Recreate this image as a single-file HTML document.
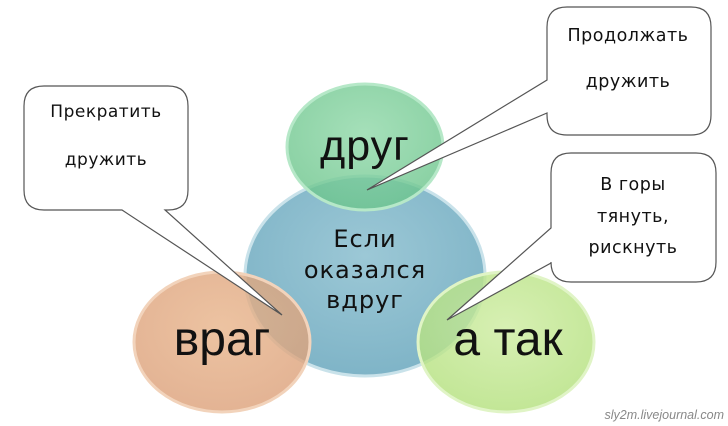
<!DOCTYPE html>
<html><head><meta charset="utf-8"><style>
html,body{margin:0;padding:0;background:#fff;}
svg{display:block;}
text{font-family:"Liberation Sans","DejaVu Sans",sans-serif;}
.c{font-family:"DejaVu Sans","Liberation Sans",sans-serif;}
</style></head><body>
<svg width="728" height="426" viewBox="0 0 728 426" xmlns="http://www.w3.org/2000/svg">
<defs>
<radialGradient id="gb" cx="50%" cy="40%" r="60%"><stop offset="0" stop-color="#9cc8d6"/><stop offset="1" stop-color="#7fb4c7"/></radialGradient>
<radialGradient id="gg" cx="50%" cy="40%" r="60%"><stop offset="0" stop-color="#8fd8a8"/><stop offset="1" stop-color="#6cc58c"/></radialGradient>
<radialGradient id="go" cx="50%" cy="40%" r="60%"><stop offset="0" stop-color="#e8b48a"/><stop offset="1" stop-color="#dca079"/></radialGradient>
<radialGradient id="gl" cx="50%" cy="40%" r="60%"><stop offset="0" stop-color="#cdeca0"/><stop offset="1" stop-color="#b3e07c"/></radialGradient>
</defs>
<ellipse cx="365" cy="276" rx="120" ry="100" fill="url(#gb)" stroke="#c9e2ea" stroke-width="3"/>
<ellipse cx="365" cy="147" rx="78" ry="63" fill="url(#gg)" fill-opacity="0.8" stroke="#b6e8c8" stroke-width="3"/>
<ellipse cx="222" cy="342" rx="88" ry="70" fill="url(#go)" fill-opacity="0.8" stroke="#f2d3bb" stroke-width="3"/>
<ellipse cx="506" cy="342" rx="88" ry="70" fill="url(#gl)" fill-opacity="0.8" stroke="#e0f4c6" stroke-width="3"/>
<text x="365" y="160" font-size="43" text-anchor="middle" fill="#111" letter-spacing="1">друг</text>
<text class="c" x="365" y="247" font-size="24" text-anchor="middle" fill="#111" letter-spacing="1">Если</text>
<text class="c" x="365" y="278" font-size="24" text-anchor="middle" fill="#111" letter-spacing="1">оказался</text>
<text class="c" x="365" y="308" font-size="24" text-anchor="middle" fill="#111" letter-spacing="1">вдруг</text>
<text x="222" y="355" font-size="48" text-anchor="middle" fill="#111">враг</text>
<text x="508" y="355" font-size="48" text-anchor="middle" fill="#111">а так</text>
<path d="M44,86 H168 Q188,86 188,106 V190 Q188,210 168,210 H165 L282,315 L122,210 H44 Q24,210 24,190 V106 Q24,86 44,86 Z" fill="#fff" stroke="#555" stroke-width="1.2"/>
<text class="c" x="106" y="117" font-size="17" text-anchor="middle" fill="#111" letter-spacing="0.5">Прекратить</text>
<text class="c" x="106" y="165" font-size="17" text-anchor="middle" fill="#111" letter-spacing="0.5">дружить</text>
<path d="M567,7 H691 Q711,7 711,27 V115 Q711,135 691,135 H567 Q547,135 547,115 V113 L367,190 L547,80 V27 Q547,7 567,7 Z" fill="#fff" stroke="#555" stroke-width="1.2"/>
<text class="c" x="628" y="41" font-size="17.5" text-anchor="middle" fill="#111" letter-spacing="0.5">Продолжать</text>
<text class="c" x="628" y="87" font-size="17.5" text-anchor="middle" fill="#111" letter-spacing="0.5">дружить</text>
<path d="M571,153 H696 Q716,153 716,173 V262 Q716,282 696,282 H571 Q551,282 551,262 V263 L447,320 L551,228 V173 Q551,153 571,153 Z" fill="#fff" stroke="#555" stroke-width="1.2"/>
<text class="c" x="633" y="190" font-size="17.5" text-anchor="middle" fill="#111" letter-spacing="0.5">В горы</text>
<text class="c" x="633" y="222" font-size="17.5" text-anchor="middle" fill="#111" letter-spacing="0.5">тянуть,</text>
<text class="c" x="633" y="253" font-size="17.5" text-anchor="middle" fill="#111" letter-spacing="0.5">рискнуть</text>
<text x="724" y="419" font-size="12.5" text-anchor="end" font-style="italic" fill="#888">sly2m.livejournal.com</text>
</svg>
</body></html>
